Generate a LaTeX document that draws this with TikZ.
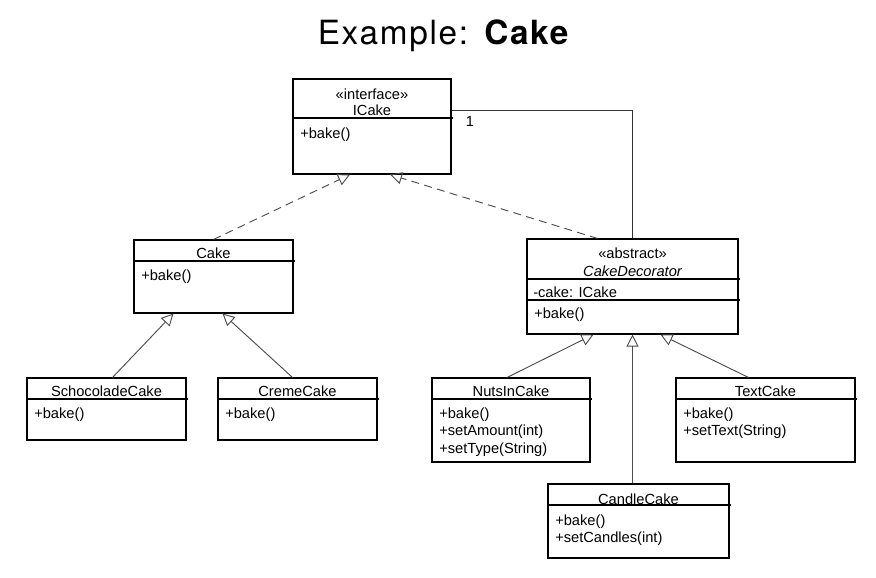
\documentclass[tikz,border=0pt]{standalone}
\usepackage{fontspec}
\setmainfont{Liberation Sans}
\newfontfamily\titlefont[LetterSpace=5]{TeX Gyre Heros}
\usetikzlibrary{arrows.meta, fit, calc}

\begin{document}
\begin{tikzpicture}[x=0.75pt, y=-0.75pt]
		\tikzstyle{ClassBox} = [rectangle, draw=black, line width=0.8pt, inner sep=0pt, fill=white]
		\tikzstyle{Head} = [inner sep=0pt, anchor=base, font=\fontsize{11}{13}\selectfont]
		\tikzstyle{Members} = [inner sep=0pt, anchor=north west, align=left, font=\fontsize{11}{13.1}\selectfont]
		\tikzstyle{divider} = [line width=0.8pt]
		\tikzstyle{inherit} = [draw=black!70, line width=0.7pt, -{Triangle[open, length=9pt, width=9pt]}]
		\tikzstyle{realize} = [inherit, dash pattern=on 6pt off 4pt]
		\tikzstyle{assoc} = [draw=black!80, line width=0.7pt]
		
		\useasboundingbox (0,0) rectangle (876,578);
		
		% title
		\node[anchor=base] (title) at (444,44) {\titlefont\fontsize{25}{29}\selectfont Example: \textbf{Cake}};
		
		% interface
		\node[ClassBox, fit={(293,79) (451,174)}] (icake) {};
		\draw[divider] (293,118) -- (453,118);
		\node[Head] (icake-st) at (372,99) {«interface»};
		\node[Head] (icake-name) at (372,115) {ICake};
		\node[Members] (icake-ops) at (300,127.5) {+bake()};
		
		% Cake and its subclasses
		\node[ClassBox, fit={(134,240) (293,313)}] (cake) {};
		\draw[divider] (134,261) -- (295,261);
		\node[Head] (cake-name) at (213.5,258) {Cake};
		\node[Members] (cake-ops) at (141,269.5) {+bake()};
		
		\node[ClassBox, fit={(27,378) (186,440)}] (schoco) {};
		\draw[divider] (27,399) -- (188,399);
		\node[Head] (schoco-name) at (106.5,396) {SchocoladeCake};
		\node[Members] (schoco-ops) at (34,407.5) {+bake()};
		
		\node[ClassBox, fit={(218,378) (377,440)}] (creme) {};
		\draw[divider] (218,399) -- (379,399);
		\node[Head] (creme-name) at (297.5,396) {CremeCake};
		\node[Members] (creme-ops) at (225,407.5) {+bake()};
		
		% decorator
		\node[ClassBox, fit={(527,239) (738,334)}] (deco) {};
		\draw[divider] (527,279) -- (740,279);
		\draw[divider] (527,300) -- (740,300);
		\node[Head] (deco-st) at (632.5,258) {«abstract»};
		\node[Head] (deco-name) at (632.5,276) {\itshape CakeDecorator};
		\node[Members] (deco-attr) at (533,286.5) {-cake: ICake};
		\node[Members] (deco-ops) at (534,307.5) {+bake()};
		
		\node[ClassBox, fit={(432,378) (590,462)}] (nuts) {};
		\draw[divider] (432,399) -- (592,399);
		\node[Head] (nuts-name) at (511,396) {NutsInCake};
		\node[Members] (nuts-ops) at (439,407.5) {+bake()\\+setAmount(int)\\+setType(String)};
		
		\node[ClassBox, fit={(676,378) (855,462)}] (textcake) {};
		\draw[divider] (676,399) -- (857,399);
		\node[Head] (textcake-name) at (765.5,396) {TextCake};
		\node[Members] (textcake-ops) at (683,407.5) {+bake()\\+setText(String)};
		
		\node[ClassBox, fit={(548,484) (729,558)}] (candle) {};
		\draw[divider] (548,505) -- (731,505);
		\node[Head] (candle-name) at (638.5,504) {CandleCake};
		\node[Members] (candle-ops) at (555,514.5) {+bake()\\+setCandles(int)};
		
		% realizations
		\draw[realize] (cake.north) -- ($(icake.south)+(-22,0)$);
		\draw[realize] ($(deco.north)+(-35,0)$) -- ($(icake.south)+(18,0)$);
		
		% association
		\draw[assoc] ($(icake.north east)+(0,32)$) coordinate (assoc-start) -| (deco.north);
		\node[Head, anchor=base west] (mult) at ($(assoc-start)+(14,16)$) {1};
		
		% generalizations
		\draw[inherit] ($(schoco.north)+(6,0)$) -- ($(cake.south)+(-40,0)$);
		\draw[inherit] ($(creme.north)+(-5,0)$) -- ($(cake.south)+(9,0)$);
		\draw[inherit] ($(nuts.north)+(-4,0)$) -- ($(deco.south)+(-39,0)$);
		\draw[inherit] (candle.north -| deco.south) -- (deco.south);
		\draw[inherit] ($(textcake.north)+(-17,0)$) -- ($(deco.south)+(28,0)$);
\end{tikzpicture}
\end{document}
